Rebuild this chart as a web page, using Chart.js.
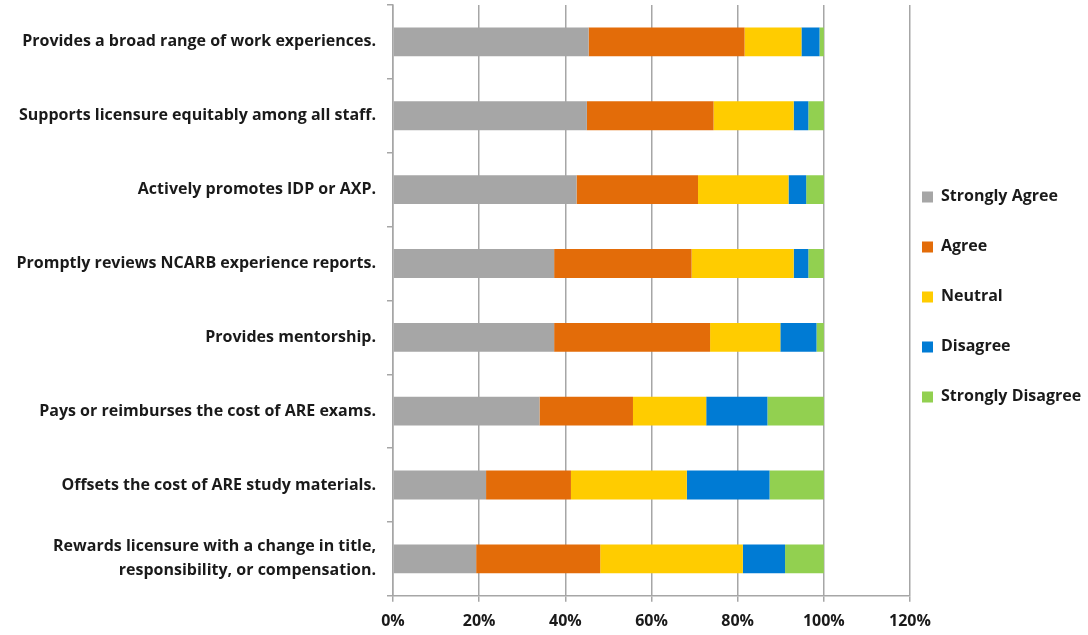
<!DOCTYPE html>
<html>
<head>
<meta charset="utf-8">
<script src="https://cdn.jsdelivr.net/npm/chart.js@4.4.1/dist/chart.umd.min.js"></script>
<style>
  html, body { margin: 0; padding: 0; background: #fff; }
  .wrap { width: 1088px; height: 635px; }
</style>
</head>
<body>
<div class="wrap"><canvas id="mainChart" width="1088" height="635"></canvas></div>
<script>
const categories = [
  'Provides a broad range of work experiences.',
  'Supports licensure equitably among all staff.',
  'Actively promotes IDP or AXP.',
  'Promptly reviews NCARB experience reports.',
  'Provides mentorship.',
  'Pays or reimburses the cost of ARE exams.',
  'Offsets the cost of ARE study materials.',
  ['Rewards licensure with a change in title,', 'responsibility, or compensation.']
];

// percent of responses
const stronglyAgree    = [45.4, 45.0, 42.6, 37.4, 37.4, 34.0, 21.6, 19.3];
const agree            = [36.2, 29.4, 28.2, 31.9, 36.2, 21.7, 19.7, 28.8];
const neutral          = [13.2, 18.6, 21.0, 23.7, 16.3, 17.0, 26.9, 33.1];
const disagree         = [4.2, 3.4, 4.1, 3.4, 8.4, 14.2, 19.2, 9.8];
const stronglyDisagree = [1.0, 3.6, 4.1, 3.6, 1.7, 13.1, 12.6, 9.0];

const xTicks = [0, 20, 40, 60, 80, 100, 120];

Chart.defaults.font.family = "'Open Sans'";
Chart.defaults.font.size = 16;
Chart.defaults.font.weight = 700;
Chart.defaults.color = '#1a1a1a';

const gridGray = '#a6a6a6';

function series(label, data, color) {
  return {
    label: label,
    data: data,
    backgroundColor: color,
    borderWidth: 0,
    categoryPercentage: 0.39,
    barPercentage: 1
  };
}

let ctx = document.getElementById('mainChart').getContext('2d');
let chart = new Chart(ctx, {
  type: 'bar',
  data: {
    labels: categories,
    datasets: [
      series('Strongly Agree', stronglyAgree, '#a6a6a6'),
      series('Agree', agree, '#e36c09'),
      series('Neutral', neutral, '#ffcc00'),
      series('Disagree', disagree, '#007bd4'),
      series('Strongly Disagree', stronglyDisagree, '#92d050')
    ]
  },
  options: {
    indexAxis: 'y',
    responsive: false,
    animation: false,
    layout: { padding: { top: 5, bottom: 4, left: 0, right: 0 } },
    scales: {
      x: {
        stacked: true,
        min: 0,
        max: 120,
        afterBuildTicks: (scale) => {
          scale.ticks = xTicks.map(v => ({ value: v }));
        },
        afterFit: (scale) => { scale.height = 35.2; },
        ticks: {
          padding: 10,
          callback: (v) => v + '%'
        },
        grid: { color: gridGray, lineWidth: 1.5, tickLength: 6 },
        border: { color: gridGray, width: 1.5 }
      },
      y: {
        stacked: true,
        afterFit: (scale) => {
          scale.width = 393;
          scale.paddingTop = 0;
          scale.paddingBottom = 0;
        },
        ticks: { padding: 11, font: { lineHeight: 1.5 } },
        grid: { drawOnChartArea: false, color: gridGray, lineWidth: 1.5, tickLength: 6 },
        border: { color: gridGray, width: 1.5 }
      }
    },
    plugins: {
      tooltip: { enabled: false },
      legend: {
        position: 'right',
        fullSize: false,
        maxWidth: 178,
        // empty title only nudges the legend column down a little
        title: { display: true, text: '', padding: 0, font: { size: 15, lineHeight: 1 } },
        labels: {
          boxWidth: 11,
          boxHeight: 11,
          padding: 12,
          font: { size: 16, lineHeight: 2.375 },
          generateLabels: (c) => {
            return Chart.defaults.plugins.legend.labels.generateLabels(c).map(l => {
              l.text = [l.text];
              return l;
            });
          }
        }
      }
    }
  }
});
</script>
</body>
</html>
